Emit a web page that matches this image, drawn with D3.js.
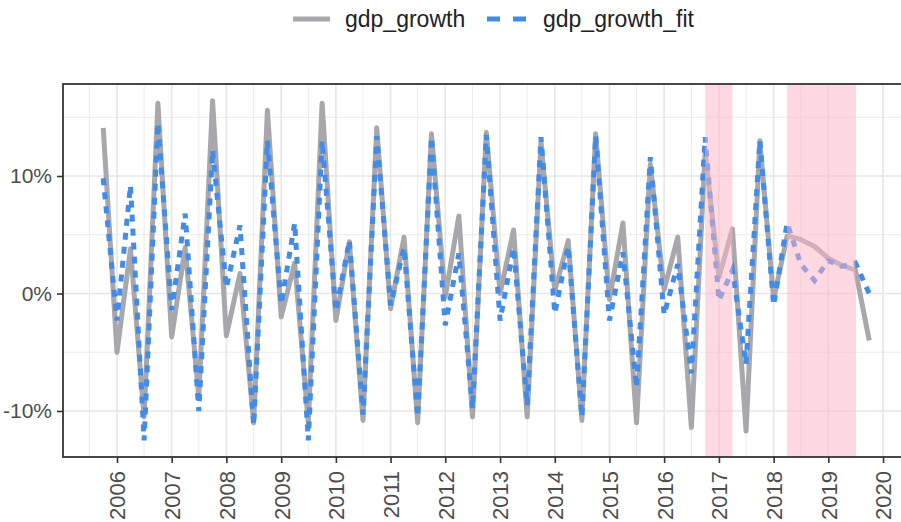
<!DOCTYPE html>
<html>
<head>
<meta charset="utf-8">
<script src="https://cdn.jsdelivr.net/npm/d3@7"></script>
<style>
  html, body { margin: 0; padding: 0; background: #fff; overflow: hidden; }
  svg { display: block; font-family: "Liberation Sans", Arial, sans-serif; }
</style>
</head>
<body>
<svg id="chart" width="901" height="522"></svg>
<script>
// ---- data (quarterly) ----
const quarters = [
  "2005-10-01","2006-01-01","2006-04-01","2006-07-01","2006-10-01",
  "2007-01-01","2007-04-01","2007-07-01","2007-10-01",
  "2008-01-01","2008-04-01","2008-07-01","2008-10-01",
  "2009-01-01","2009-04-01","2009-07-01","2009-10-01",
  "2010-01-01","2010-04-01","2010-07-01","2010-10-01",
  "2011-01-01","2011-04-01","2011-07-01","2011-10-01",
  "2012-01-01","2012-04-01","2012-07-01","2012-10-01",
  "2013-01-01","2013-04-01","2013-07-01","2013-10-01",
  "2014-01-01","2014-04-01","2014-07-01","2014-10-01",
  "2015-01-01","2015-04-01","2015-07-01","2015-10-01",
  "2016-01-01","2016-04-01","2016-07-01","2016-10-01",
  "2017-01-01","2017-04-01","2017-07-01","2017-10-01",
  "2018-01-01","2018-04-01","2018-07-01","2018-10-01",
  "2019-01-01","2019-04-01","2019-07-01","2019-10-01"
];
const gdp_growth = [
  14.1, -5.0, 3.8, -10.5, 16.2,
  -3.7, 3.9, -8.8, 16.4,
  -3.6, 1.7, -11.0, 15.6,
  -2.0, 2.6, -11.0, 16.2,
  -2.3, 4.4, -10.8, 14.1,
  -1.3, 4.8, -11.0, 13.6,
  -0.3, 6.6, -10.5, 13.7,
  0.0, 5.4, -10.5, 12.9,
  0.2, 4.5, -10.8, 13.6,
  -0.5, 6.0, -11.0, 11.0,
  0.3, 4.8, -11.4, 12.0,
  1.4, 5.5, -11.7, 13.0,
  -0.5, 4.9, 4.6, 4.0,
  3.0, 2.4, 2.0, -4.0
];
const gdp_growth_fit = [
  9.8, -2.3, 9.2, -12.5, 14.5,
  -1.4, 6.8, -10.0, 12.2,
  0.5, 5.8, -11.2, 13.0,
  -0.9, 6.0, -12.5, 13.0,
  -1.5, 4.5, -10.3, 13.4,
  -1.0, 3.9, -10.5, 13.3,
  -2.7, 3.4, -9.8, 13.5,
  -2.3, 3.9, -9.5, 13.3,
  -1.7, 4.0, -10.5, 13.4,
  -2.3, 3.5, -8.0, 11.6,
  -1.8, 2.5, -6.8, 13.3,
  -0.6, 2.0, -6.0, 13.0,
  -1.0, 6.0, 2.5, 1.1,
  2.8, 2.3, 2.6, 0.0
];
const shadeStart = ["2016-10-01", "2018-04-01"];
const shadeEnd   = ["2017-04-01", "2019-07-01"];
const yearTicks = [2006,2007,2008,2009,2010,2011,2012,2013,2014,2015,2016,2017,2018,2019,2020];
const yTicks = [-10, 0, 10];
const yMinor = [-5, 5, 15];
const seriesNames = ["gdp_growth", "gdp_growth_fit"];

// ---- layout ----
const svg = d3.select("#chart");
const panel = {left: 63, top: 84, right: 912, bottom: 457};
const parse = d3.timeParse("%Y-%m-%d");
const x = d3.scaleTime()
  .domain([new Date(2006,0,1), new Date(2020,0,1)])
  .range([117, 883]);
const y = d3.scaleLinear().domain([-10, 10]).range([411, 176]);

const grey = "#a8a8ac", blue = "#428be6";

// grid
const g = svg.append("g");
const halfYears = yearTicks.map(t => new Date(t-1, 6, 1)).concat([new Date(2020,6,1)]);
g.selectAll(".vminor").data(halfYears).enter().append("line")
  .attr("x1", d => x(d)).attr("x2", d => x(d))
  .attr("y1", panel.top).attr("y2", panel.bottom)
  .attr("stroke", "#ebebeb").attr("stroke-width", 1);
g.selectAll(".hminor").data(yMinor).enter().append("line")
  .attr("x1", panel.left).attr("x2", panel.right)
  .attr("y1", d => y(d)).attr("y2", d => y(d))
  .attr("stroke", "#ebebeb").attr("stroke-width", 1);
g.selectAll(".vmajor").data(yearTicks).enter().append("line")
  .attr("x1", d => x(new Date(d,0,1))).attr("x2", d => x(new Date(d,0,1)))
  .attr("y1", panel.top).attr("y2", panel.bottom)
  .attr("stroke", "#e6e6e6").attr("stroke-width", 1.6);
g.selectAll(".hmajor").data(yTicks).enter().append("line")
  .attr("x1", panel.left).attr("x2", panel.right)
  .attr("y1", d => y(d)).attr("y2", d => y(d))
  .attr("stroke", "#e6e6e6").attr("stroke-width", 1.6);

// lines
const data = quarters.map((q, i) => ({date: parse(q), g: gdp_growth[i], f: gdp_growth_fit[i]}));
const lineG = d3.line().x(d => x(d.date)).y(d => y(d.g));
const lineF = d3.line().x(d => x(d.date)).y(d => y(d.f));
svg.append("path").datum(data).attr("d", lineG)
  .attr("fill", "none").attr("stroke", grey).attr("stroke-width", 5)
  .attr("stroke-linejoin", "round");
svg.append("path").datum(data).attr("d", lineF)
  .attr("fill", "none").attr("stroke", blue).attr("stroke-width", 5)
  .attr("stroke-dasharray", "7,7");

// shaded regions (on top, translucent)
svg.selectAll(".shade").data(shadeStart).enter().append("rect")
  .attr("x", (d) => x(parse(d)))
  .attr("width", (d, i) => x(parse(shadeEnd[i])) - x(parse(d)))
  .attr("y", panel.top).attr("height", panel.bottom - panel.top)
  .attr("fill", "#ffb3c6").attr("opacity", 0.5);

// panel border
svg.append("rect").attr("x", panel.left).attr("y", panel.top)
  .attr("width", panel.right - panel.left).attr("height", panel.bottom - panel.top)
  .attr("fill", "none").attr("stroke", "#333").attr("stroke-width", 1.8);

// y axis
const yAxis = d3.axisLeft(y).tickValues(yTicks).tickSize(6).tickPadding(5)
  .tickFormat(d => d + "%");
const ya = svg.append("g").attr("transform", `translate(${panel.left},0)`).call(yAxis);
ya.select(".domain").remove();
ya.selectAll("line").attr("stroke", "#333").attr("stroke-width", 1.6);
ya.selectAll("text").attr("fill", "#4d4d4d").style("font-size", "21px")
  .attr("font-family", "'Liberation Sans', Arial, sans-serif");

// x axis
const xAxis = d3.axisBottom(x).tickValues(yearTicks.map(t => new Date(t,0,1)))
  .tickSize(6).tickFormat(d3.timeFormat("%Y"));
const xa = svg.append("g").attr("transform", `translate(0,${panel.bottom})`).call(xAxis);
xa.select(".domain").remove();
xa.selectAll("line").attr("stroke", "#333").attr("stroke-width", 1.6);
xa.selectAll("text")
  .attr("fill", "#4d4d4d").style("font-size", "22px")
  .attr("font-family", "'Liberation Sans', Arial, sans-serif")
  .attr("text-anchor", "end")
  .attr("transform", "translate(0,14) rotate(-90)")
  .attr("x", 0).attr("y", 0).attr("dy", "0.36em");

// legend
const leg = svg.append("g");
leg.append("line").attr("x1", 293).attr("x2", 330).attr("y1", 19).attr("y2", 19)
  .attr("stroke", grey).attr("stroke-width", 5);
leg.append("text").attr("x", 345).attr("y", 19).attr("dy", "0.35em")
  .attr("fill", "#222").style("font-size", "23px").text(seriesNames[0]);
leg.append("line").attr("x1", 487).attr("x2", 527).attr("y1", 19).attr("y2", 19)
  .attr("stroke", blue).attr("stroke-width", 5).attr("stroke-dasharray", "13,13");
leg.append("text").attr("x", 543).attr("y", 19).attr("dy", "0.35em")
  .attr("fill", "#222").style("font-size", "23px").text(seriesNames[1]);
</script>
</body>
</html>
